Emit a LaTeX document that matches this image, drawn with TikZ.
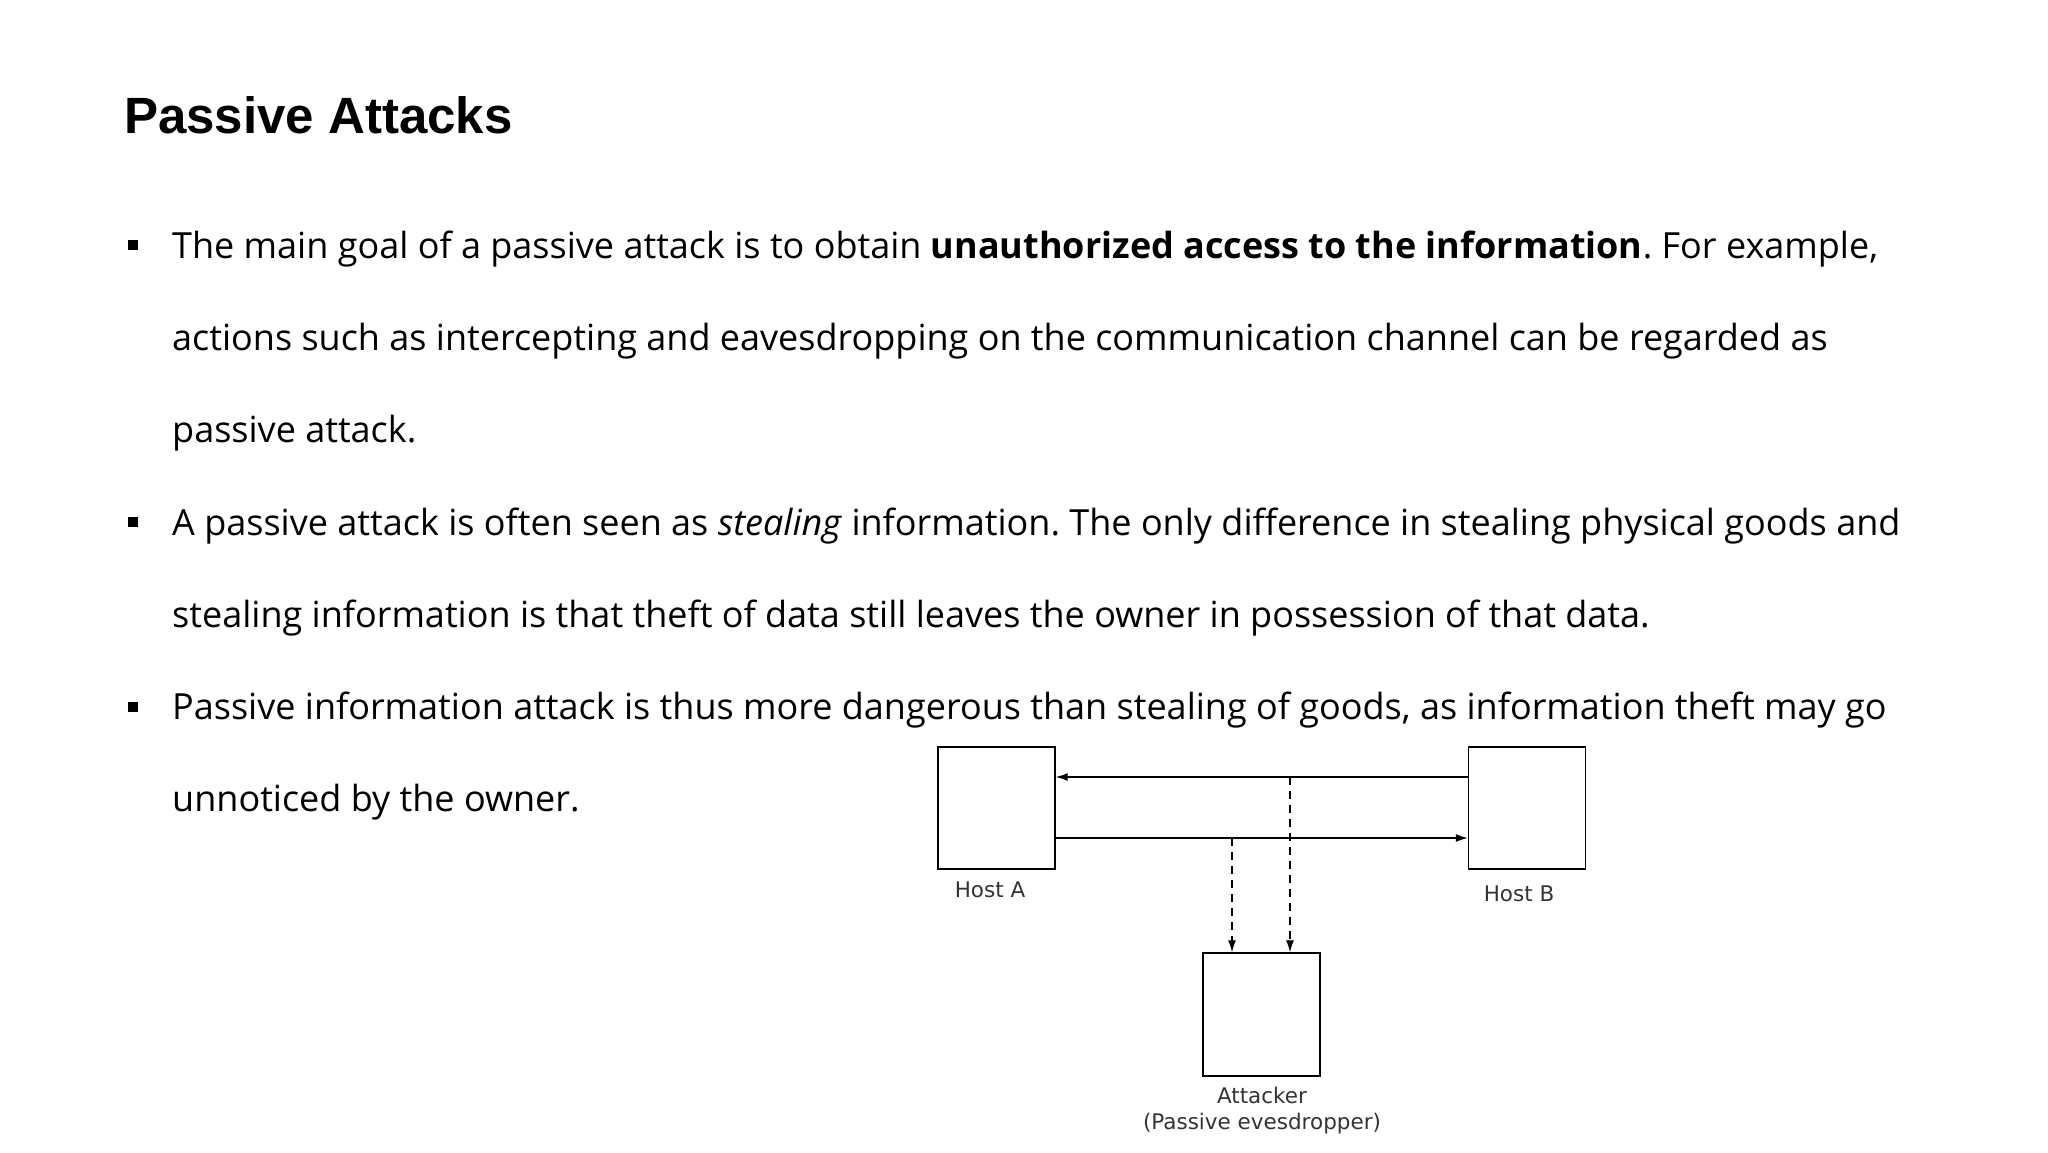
\documentclass[tikz,border=0pt]{standalone}
\usepackage{fontspec}
\setmainfont{Open Sans}
\newfontfamily\titlefont{Liberation Sans}
\newfontfamily\diafont{DejaVu Sans}
\usetikzlibrary{arrows.meta}
\frenchspacing
\begin{document}
\begin{tikzpicture}[x=1pt,y=-1pt,
  bodytext/.style={anchor=base west,inner sep=0pt,font=\fontsize{36}{42}\selectfont},
  bul/.style={fill=black,minimum size=10pt,inner sep=0pt},
  hostbox/.style={draw,line width=1.4pt,minimum width=117pt,minimum height=122pt,inner sep=0pt},
  lbl/.style={font=\diafont\fontsize{21.5}{26}\selectfont,text=black!80,inner sep=0pt,align=center},
  conn/.style={line width=1.3pt,-{Latex[length=12pt,width=8pt]}},
  dconn/.style={conn,dash pattern=on 8pt off 6pt}]
\useasboundingbox (0,0) rectangle (2048,1152);
\node[anchor=base west,inner sep=0pt,font=\titlefont\bfseries\fontsize{51}{58}\selectfont] (title) at (124,133) {Passive Attacks};
\node[bul] (b1) at (133,245) {};
\node[bul] (b2) at (133,522) {};
\node[bul] (b3) at (133,707) {};
\node[bodytext] (l1) at (172,258) {The main goal of a passive attack is to obtain \textbf{unauthorized access to the information}. For example,};
\node[bodytext] (l2) at (172,350) {actions such as intercepting and eavesdropping on the communication channel can be regarded as};
\node[bodytext] (l3) at (172,442) {passive attack.};
\node[bodytext] (l4) at (172,535) {A passive attack is often seen as \textit{stealing} information. The only difference in stealing physical goods and};
\node[bodytext] (l5) at (172,627) {stealing information is that theft of data still leaves the owner in possession of that data.};
\node[bodytext] (l6) at (172,719) {Passive information attack is thus more dangerous than stealing of goods, as information theft may go};
\node[bodytext] (l7) at (172,811) {unnoticed by the owner.};
\node[hostbox] (A) at (996.5,808) {};
\node[hostbox] (B) at (1527,808) {};
\node[hostbox,minimum height=123pt] (C) at (1261.5,1014.5) {};
\node[lbl] (la) at (990,890) {Host A};
\node[lbl] (lb) at (1519,894) {Host B};
\node[lbl] (lc) at (1262,1111) {Attacker\\(Passive evesdropper)};
\coordinate (u1) at (1290,777);
\coordinate (d1) at (1232,838);
\draw[conn] (B.west |- u1) -- (A.east |- u1);
\draw[conn] (A.east |- d1) -- (B.west |- d1);
\draw[dconn] (u1) -- (u1 |- C.north);
\draw[dconn] (d1) -- (d1 |- C.north);
\end{tikzpicture}
\end{document}
